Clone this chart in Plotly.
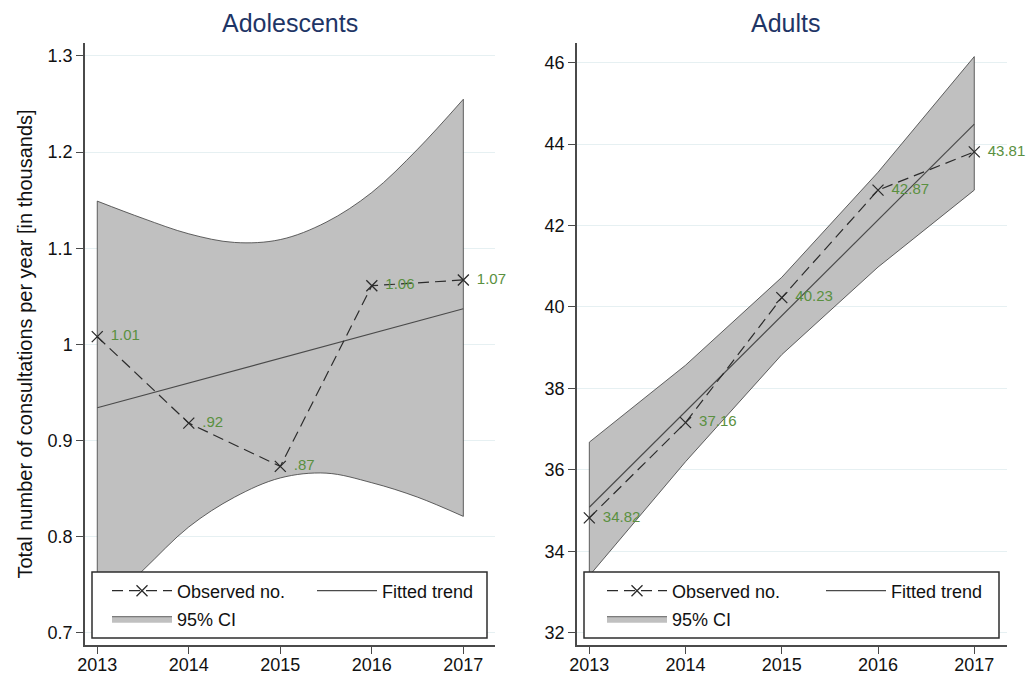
import plotly.graph_objects as go

# ---------------- data ----------------
years = [2013, 2014, 2015, 2016, 2017]

# Adolescents
ado_obs = [1.008, 0.918, 0.873, 1.061, 1.067]
ado_labels = ["1.01", ".92", ".87", "1.06", "1.07"]
ado_fit_x = [2013, 2017]
ado_fit = [0.934, 1.037]
ado_ci_x = [2013, 2013.5, 2014, 2014.5, 2015, 2015.5, 2016, 2016.5, 2017]
ado_ci_upper = [1.149, 1.131, 1.115, 1.106, 1.109, 1.127, 1.158, 1.203, 1.255]
ado_ci_lower = [0.720, 0.765, 0.810, 0.841, 0.861, 0.866, 0.856, 0.841, 0.821]

# Adults
adu_obs = [34.82, 37.16, 40.23, 42.87, 43.81]
adu_labels = ["34.82", "37.16", "40.23", "42.87", "43.81"]
adu_fit_x = [2013, 2017]
adu_fit = [35.08, 44.49]
adu_ci_x = [2013, 2014, 2015, 2016, 2017]
adu_ci_upper = [36.68, 38.57, 40.73, 43.31, 46.15]
adu_ci_lower = [33.40, 36.20, 38.83, 40.98, 42.87]

ado_yticks = [0.7, 0.8, 0.9, 1.0, 1.1, 1.2, 1.3]
ado_yticktext = ["0.7", "0.8", "0.9", "1", "1.1", "1.2", "1.3"]
adu_yticks = [32, 34, 36, 38, 40, 42, 44, 46]

# ---------------- style ----------------
OFF = 8                      # default page body margin
W, H = 1035 - OFF, 675 - OFF
FONT = "Liberation Sans, Arial, Helvetica, sans-serif"
BAND_FILL = "#c0c0c0"
BAND_LINE = "#3c3c3c"
OBS_COLOR = "#2b2b2b"
FIT_COLOR = "#4a4a4a"
LABEL_GREEN = "#5a9040"
TITLE_NAVY = "#1e3566"
AXIS_COLOR = "#4a4a4a"
GRID_COLOR = "#e6f0f2"


def px_x(p):
    return (p - OFF) / W


def px_y(p):
    return 1 - (p - OFF) / H


fig = go.Figure()


def add_panel(xa, ya, ci_x, ci_up, ci_lo, fit_x, fit_y, obs, labels, shape, leg_a, leg_b):
    # CI band: lower edge then upper edge filled to it
    fig.add_trace(go.Scatter(
        x=ci_x, y=ci_lo, mode="lines", xaxis=xa, yaxis=ya,
        line=dict(color=BAND_LINE, width=0.8, shape=shape),
        showlegend=False, hoverinfo="skip"))
    fig.add_trace(go.Scatter(
        x=ci_x, y=ci_up, mode="lines", xaxis=xa, yaxis=ya,
        line=dict(color=BAND_LINE, width=0.8, shape=shape),
        fill="tonexty", fillcolor=BAND_FILL,
        name="95% CI", legend=leg_b, showlegend=True, hoverinfo="skip"))
    # vertical band ends
    fig.add_trace(go.Scatter(
        x=[ci_x[0], ci_x[0], None, ci_x[-1], ci_x[-1]],
        y=[ci_lo[0], ci_up[0], None, ci_lo[-1], ci_up[-1]],
        mode="lines", xaxis=xa, yaxis=ya,
        line=dict(color=BAND_LINE, width=0.8),
        showlegend=False, hoverinfo="skip"))
    # fitted trend
    fig.add_trace(go.Scatter(
        x=fit_x, y=fit_y, mode="lines", xaxis=xa, yaxis=ya,
        line=dict(color=FIT_COLOR, width=1.2),
        name="Fitted trend", legend=leg_a, legendrank=2, showlegend=True))
    # observed
    fig.add_trace(go.Scatter(
        x=years, y=obs, mode="lines+markers", xaxis=xa, yaxis=ya,
        line=dict(color=OBS_COLOR, width=1.2, dash="11px,6px"),
        marker=dict(symbol="x-thin", size=11, line=dict(color=OBS_COLOR, width=1.3)),
        name="Observed no.", legend=leg_a, legendrank=1, showlegend=True))
    # value labels
    fig.add_trace(go.Scatter(
        x=years, y=obs, mode="markers+text", xaxis=xa, yaxis=ya,
        marker=dict(size=20, color="rgba(0,0,0,0)"),
        text=labels, textposition="middle right", cliponaxis=False,
        textfont=dict(color=LABEL_GREEN, size=15, family=FONT),
        showlegend=False, hoverinfo="skip"))


add_panel("x", "y", ado_ci_x, ado_ci_upper, ado_ci_lower, ado_fit_x, ado_fit,
          ado_obs, ado_labels, "spline", "legend", "legend2")
add_panel("x2", "y2", adu_ci_x, adu_ci_upper, adu_ci_lower, adu_fit_x, adu_fit,
          adu_obs, adu_labels, "linear", "legend3", "legend4")

axis_common = dict(
    showline=True, linecolor=AXIS_COLOR, linewidth=1.5,
    ticks="outside", ticklen=7, tickcolor=AXIS_COLOR, tickwidth=1.2,
    tickfont=dict(family=FONT, size=18, color="#111111"),
    zeroline=False, automargin=False,
)

fig.update_layout(
    width=W, height=H,
    margin=dict(l=0, r=0, t=0, b=0, autoexpand=False),
    paper_bgcolor="white", plot_bgcolor="white",
    font=dict(family=FONT, color="#111111"),
    xaxis=dict(domain=[px_x(85), px_x(495)], range=[2012.866, 2017.346],
               tickvals=years, showgrid=False, anchor="y", ticklabelstandoff=-4,
               **axis_common),
    yaxis=dict(domain=[px_y(645), px_y(43)], range=[0.6872, 1.3135],
               tickvals=ado_yticks, ticktext=ado_yticktext,
               showgrid=True, gridcolor=GRID_COLOR, gridwidth=1, anchor="x",
               title=dict(text="Total number of consultations per year [in thousands]",
                          font=dict(family=FONT, size=20, color="#111111"), standoff=10),
               **axis_common),
    xaxis2=dict(domain=[px_x(577), px_x(1007)], range=[2012.872, 2017.34],
                tickvals=years, showgrid=False, anchor="y2", ticklabelstandoff=-4,
                **axis_common),
    yaxis2=dict(domain=[px_y(645), px_y(43)], range=[31.698, 46.484],
                tickvals=adu_yticks, showgrid=True, gridcolor=GRID_COLOR, gridwidth=1,
                anchor="x2", **axis_common),
    hovermode=False,
)

leg_common = dict(orientation="h", xanchor="left", yanchor="middle",
                  bgcolor="rgba(0,0,0,0)", borderwidth=0,
                  font=dict(family=FONT, size=18, color="#111111"),
                  itemwidth=60, itemclick=False, itemdoubleclick=False)
fig.update_layout(
    legend=dict(x=px_x(107), y=px_y(591), entrywidth=130, **leg_common),
    legend2=dict(x=px_x(107), y=px_y(619), entrywidth=130, **leg_common),
    legend3=dict(x=px_x(602), y=px_y(591), entrywidth=144, **leg_common),
    legend4=dict(x=px_x(602), y=px_y(619), entrywidth=144, **leg_common),
)

# legend frames
for x0, x1 in [(92, 487), (584, 999)]:
    fig.add_shape(type="rect", xref="paper", yref="paper",
                  x0=px_x(x0), x1=px_x(x1), y0=px_y(638), y1=px_y(572),
                  fillcolor="white", line=dict(color="#2e2e2e", width=1.5), layer="above")

# panel titles
for txt, cx in [("Adolescents", 290), ("Adults", 785)]:
    fig.add_annotation(text=txt, xref="paper", yref="paper", x=px_x(cx), y=px_y(23),
                       xanchor="center", yanchor="middle", showarrow=False,
                       font=dict(family=FONT, size=25, color=TITLE_NAVY))

fig.write_html("out.html")
